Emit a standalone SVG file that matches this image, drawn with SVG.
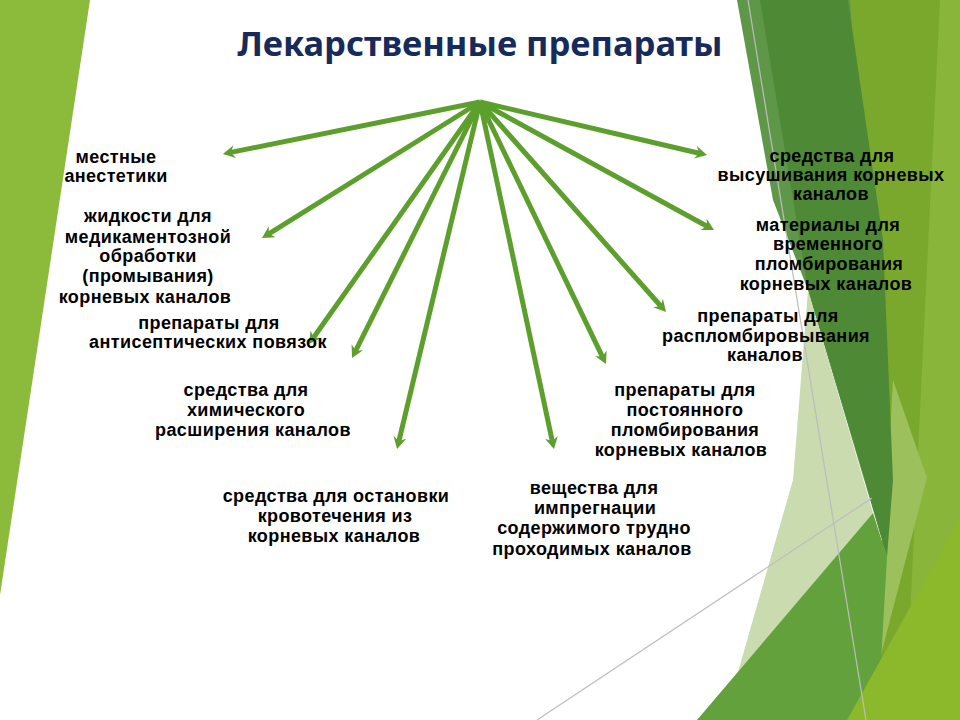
<svg xmlns="http://www.w3.org/2000/svg" width="960" height="720" viewBox="0 0 960 720">
<defs>
<style>
.lbl{font-family:"Liberation Sans",Arial,sans-serif;font-weight:bold;font-size:18px;letter-spacing:0.4px;fill:#000;text-anchor:middle}
.ttl{font-family:"Noto Sans","Open Sans",sans-serif;font-weight:bold;font-size:34.5px;fill:#172a5c;text-anchor:middle}
.arr{stroke:#5c9f2c;stroke-width:5;fill:none;marker-end:url(#ah)}
.thin{stroke:#bdbdbd;stroke-width:1.2;fill:none}
</style>
<marker id="ah" markerUnits="userSpaceOnUse" markerWidth="13" markerHeight="13" viewBox="0 0 12 13" refX="4" refY="6.5" orient="auto">
<path d="M0,0 L12,6.5 L0,13 L4,6.5 z" fill="#5c9f2c"/>
</marker>
</defs>
<rect width="960" height="720" fill="#ffffff"/>
<g id="background">
<polygon points="0,0 90,0 0,595" fill="#8cbb3b"/>
<polygon points="848,0 960,0 960,720 850,720 893,480" fill="#7aa82d"/>
<polygon points="940,0 960,0 960,720 905,720" fill="#88b53a"/>
<polygon points="893,380 927,478 877,670" fill="#9cc05c"/>
<polygon points="737,0 850,0 887,557 808,290 773,200" fill="#5f9748"/>
<polygon points="760,0 848,0 883,240 893,480 887,557 865,480 808,290" fill="#4e8a36"/>
<polygon points="738,672 793,480 808,290 873,513" fill="#c9dbaf"/>
<polygon points="697,720 873,513 887,557 880,680 850,720" fill="#63a13c"/>
<polygon points="847,720 960,518 960,720" fill="#8cb82b"/>
<line class="thin" x1="748" y1="0" x2="866" y2="720"/>
<line class="thin" x1="537" y1="720" x2="872" y2="498"/>
</g>
<g id="title"><text class="ttl" x="480" y="56">Лекарственные препараты</text></g>
<g id="connectors">
<line class="arr" x1="480" y1="102" x2="230.8" y2="152.4"/>
<line class="arr" x1="480" y1="102" x2="268.8" y2="233.8"/>
<line class="arr" x1="480" y1="102" x2="313.6" y2="337.5"/>
<line class="arr" x1="480" y1="102" x2="355.6" y2="350.8"/>
<line class="arr" x1="480" y1="102" x2="398.9" y2="441.2"/>
<line class="arr" x1="480" y1="102" x2="552.3" y2="441.2"/>
<line class="arr" x1="480" y1="102" x2="602.5" y2="356.8"/>
<line class="arr" x1="480" y1="102" x2="660.7" y2="306"/>
<line class="arr" x1="480" y1="102" x2="707" y2="226.2"/>
<line class="arr" x1="480" y1="102" x2="699.2" y2="153.2"/>
</g>
<g id="n1"><text class="lbl" x="116" y="163">местные</text><text class="lbl" x="116" y="182">анестетики</text></g>
<g id="n2"><text class="lbl" x="148" y="222">жидкости для</text><text class="lbl" x="148" y="243">медикаментозной</text><text class="lbl" x="148" y="262">обработки</text><text class="lbl" x="148" y="282">(промывания)</text><text class="lbl" x="145" y="303">корневых каналов</text></g>
<g id="n3"><text class="lbl" x="209" y="329">препараты для</text><text class="lbl" x="208" y="348">антисептических повязок</text></g>
<g id="n4"><text class="lbl" x="246" y="396">средства для</text><text class="lbl" x="246" y="416">химического</text><text class="lbl" x="253" y="436">расширения каналов</text></g>
<g id="n5"><text class="lbl" x="336" y="502">средства для остановки</text><text class="lbl" x="335" y="522">кровотечения из</text><text class="lbl" x="334" y="542">корневых каналов</text></g>
<g id="n6"><text class="lbl" x="594" y="494">вещества для</text><text class="lbl" x="595" y="514">импрегнации</text><text class="lbl" x="594" y="534">содержимого трудно</text><text class="lbl" x="592" y="555">проходимых каналов</text></g>
<g id="n7"><text class="lbl" x="685" y="396">препараты для</text><text class="lbl" x="685" y="416">постоянного</text><text class="lbl" x="685" y="436">пломбирования</text><text class="lbl" x="681" y="456">корневых каналов</text></g>
<g id="n8"><text class="lbl" x="768" y="322">препараты для</text><text class="lbl" x="766" y="342">распломбировывания</text><text class="lbl" x="765" y="361">каналов</text></g>
<g id="n9"><text class="lbl" x="828" y="231">материалы для</text><text class="lbl" x="828" y="250">временного</text><text class="lbl" x="829" y="270">пломбирования</text><text class="lbl" x="826" y="290">корневых каналов</text></g>
<g id="n10"><text class="lbl" x="832" y="162">средства для</text><text class="lbl" x="831" y="181">высушивания корневых</text><text class="lbl" x="831" y="200">каналов</text></g>
</svg>
